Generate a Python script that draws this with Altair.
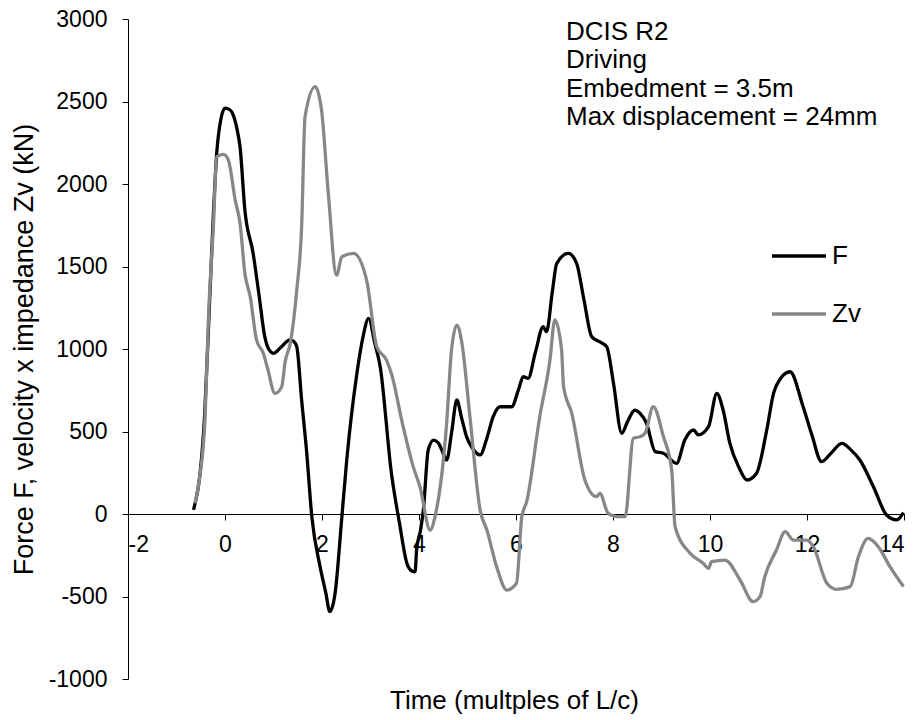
import altair as alt
import pandas as pd

# Force signal F (kN) against time in multiples of L/c
f_time = [-0.65, -0.62, -0.52, -0.42, -0.33, -0.25, -0.17, -0.08, 0.0, 0.1, 0.17, 0.25,
          0.31, 0.41, 0.58, 0.7, 0.82, 0.9, 1.0, 1.15, 1.34, 1.42, 1.48, 1.58, 1.68,
          1.79, 1.96, 2.08, 2.16, 2.27, 2.41, 2.51, 2.72, 2.85, 2.96, 3.09, 3.2, 3.43,
          3.6, 3.75, 3.85, 3.92, 3.95, 4.03, 4.09, 4.19, 4.3, 4.4, 4.47, 4.57, 4.67,
          4.78, 4.88, 4.98, 5.1, 5.26, 5.4, 5.53, 5.67, 5.91, 6.05, 6.15, 6.25, 6.4,
          6.56, 6.63, 6.75, 6.84, 7.08, 7.25, 7.4, 7.56, 7.75, 7.87, 8.01, 8.18, 8.3,
          8.45, 8.56, 8.69, 8.87, 9.04, 9.31, 9.48, 9.66, 9.76, 9.97, 10.14, 10.27,
          10.41, 10.6, 10.76, 10.96, 11.17, 11.31, 11.45, 11.65, 11.92, 12.1, 12.3,
          12.5, 12.72, 12.9, 13.09, 13.37, 13.64, 13.85, 13.99]
f_value = [25, 60, 230, 600, 1200, 1750, 2190, 2400, 2460, 2450, 2418, 2330,
           2226, 1842, 1580, 1330, 1075, 1000, 974, 1010, 1055, 1045, 1014, 691, 388,
           -16, -319, -480, -592, -480, -16, 327, 853, 1080, 1186, 1034, 893, 250,
           -60, -299, -345, -350, -218, -100, 24, 388, 448, 430, 388, 327, 489,
           691, 580, 469, 400, 358, 460, 590, 650, 650, 752, 832, 822, 980,
           1135, 1105, 1350, 1519, 1580, 1519, 1300, 1075, 1040, 1014, 792, 489, 560,
           630, 610, 550, 378, 368, 307, 448, 509, 479, 529, 731, 630,
           428, 280, 206, 247, 509, 731, 820, 862, 650, 480, 317,
           370, 428, 390, 327, 165, -6, -36, 8]

# Velocity times impedance, Zv (kN)
zv_time = [-0.62, -0.52, -0.41, -0.34, -0.24, -0.17, -0.03, 0.07, 0.21, 0.31, 0.41, 0.52,
           0.65, 0.79, 0.88, 1.03, 1.17, 1.24, 1.35, 1.48, 1.58, 1.65, 1.86, 1.99, 2.13,
           2.3, 2.41, 2.65, 2.92, 3.13, 3.33, 3.44, 3.65, 3.88, 4.02, 4.23, 4.33, 4.57,
           4.67, 4.78, 4.88, 5.05, 5.26, 5.4, 5.6, 5.81, 6.01, 6.12, 6.22, 6.49, 6.7,
           6.8, 6.94, 6.98, 7.15, 7.42, 7.66, 7.73, 7.9, 8.08, 8.25, 8.42, 8.56, 8.66,
           8.83, 9.04, 9.21, 9.28, 9.59, 9.86, 9.97, 10.03, 10.31, 10.62, 10.89, 11.03,
           11.13, 11.37, 11.55, 11.72, 11.99, 12.13, 12.41, 12.61, 12.89, 13.06, 13.26,
           13.47, 13.71, 13.99]
zv_value = [65, 226, 590, 1196, 1741, 2166, 2180, 2145, 1903, 1762, 1459, 1317,
            1055, 974, 880, 731, 772, 923, 1040, 1358, 1741, 2408, 2590, 2448, 1943,
            1448, 1559, 1580, 1418, 1014, 933, 842, 560, 287, 165, -97, -16, 550,
            994, 1145, 1044, 590, 24, -97, -319, -461, -420, -16, 75, 590, 933,
            1176, 994, 772, 610, 206, 105, 125, 4, -16, -16, 459, 469, 489,
            650, 469, 267, -77, -238, -299, -329, -289, -279, -400, -531, -501,
            -380, -218, -107, -158, -158, -198, -420, -457, -440, -259, -148,
            -198, -319, -440]

series_names = ["F", "Zv"]
series_colors = ["#000000", "#878787"]
x_ticks = [-2, 0, 2, 4, 6, 8, 10, 12, 14]
y_ticks = [-1000, -500, 0, 500, 1000, 1500, 2000, 2500, 3000]
notes = ["DCIS R2", "Driving", "Embedment = 3.5m", "Max displacement = 24mm"]
x_title = "Time (multples of L/c)"
y_title = "Force F, velocity x impedance Zv (kN)"

FONT = "Liberation Sans"
PLAIN_NUMBER = "'' + datum.value"

rows = [{"t": t, "v": v, "series": "F"} for t, v in zip(f_time, f_value)]
rows += [{"t": t, "v": v, "series": "Zv"} for t, v in zip(zv_time, zv_value)]
signals = pd.DataFrame(rows)

lines = alt.Chart(signals).mark_line(strokeWidth=3.3, interpolate="monotone").encode(
    x=alt.X(
        "t:Q",
        scale=alt.Scale(domain=[-2, 14], nice=False, zero=False),
        axis=alt.Axis(
            values=x_ticks, offset=-165, title=None, grid=False,
            tickSize=6, labelPadding=13, labelFontSize=23, labelExpr=PLAIN_NUMBER,
        ),
    ),
    y=alt.Y(
        "v:Q",
        scale=alt.Scale(domain=[-1000, 3000], nice=False, zero=False),
        axis=alt.Axis(
            values=y_ticks, title=y_title, grid=False, tickSize=6,
            labelPadding=15, labelFontSize=23, labelExpr=PLAIN_NUMBER,
            titleFontSize=27, titleFontWeight="normal", titlePadding=10,
        ),
    ),
    color=alt.Color(
        "series:N",
        scale=alt.Scale(domain=series_names, range=series_colors),
        legend=alt.Legend(
            title=None, orient="none", legendX=642, legendY=208,
            symbolType="stroke", symbolSize=2916, symbolStrokeWidth=3.5,
            labelFontSize=26, labelFont=FONT, labelColor="black",
            labelOffset=4, padding=0, rowPadding=16,
        ),
    ),
    detail="series:N",
)

note_text = alt.Chart(pd.DataFrame({"note": ["\n".join(notes)]})).mark_text(
    align="left", baseline="alphabetic", lineBreak="\n", lineHeight=28.5,
    fontSize=26, font=FONT, color="black",
).encode(x=alt.value(438), y=alt.value(20.5), text="note:N")

x_label = alt.Chart(pd.DataFrame({"label": [x_title]})).mark_text(
    align="center", baseline="alphabetic", fontSize=26, font=FONT, color="black",
).encode(x=alt.value(386.5), y=alt.value(690), text="label:N")

chart = alt.layer(lines, note_text, x_label).properties(
    width=776,
    height=660,
    padding={"left": 128, "top": 19, "right": 17, "bottom": 41},
    autosize=alt.AutoSizeParams(type="none"),
    background="white",
).configure_view(stroke=None).configure_axis(
    domainColor="black", tickColor="black", labelColor="black", titleColor="black",
    labelFont=FONT, titleFont=FONT, domainWidth=1, tickWidth=1,
)

chart.save("out.html", embed_options={"renderer": "svg", "actions": False})
